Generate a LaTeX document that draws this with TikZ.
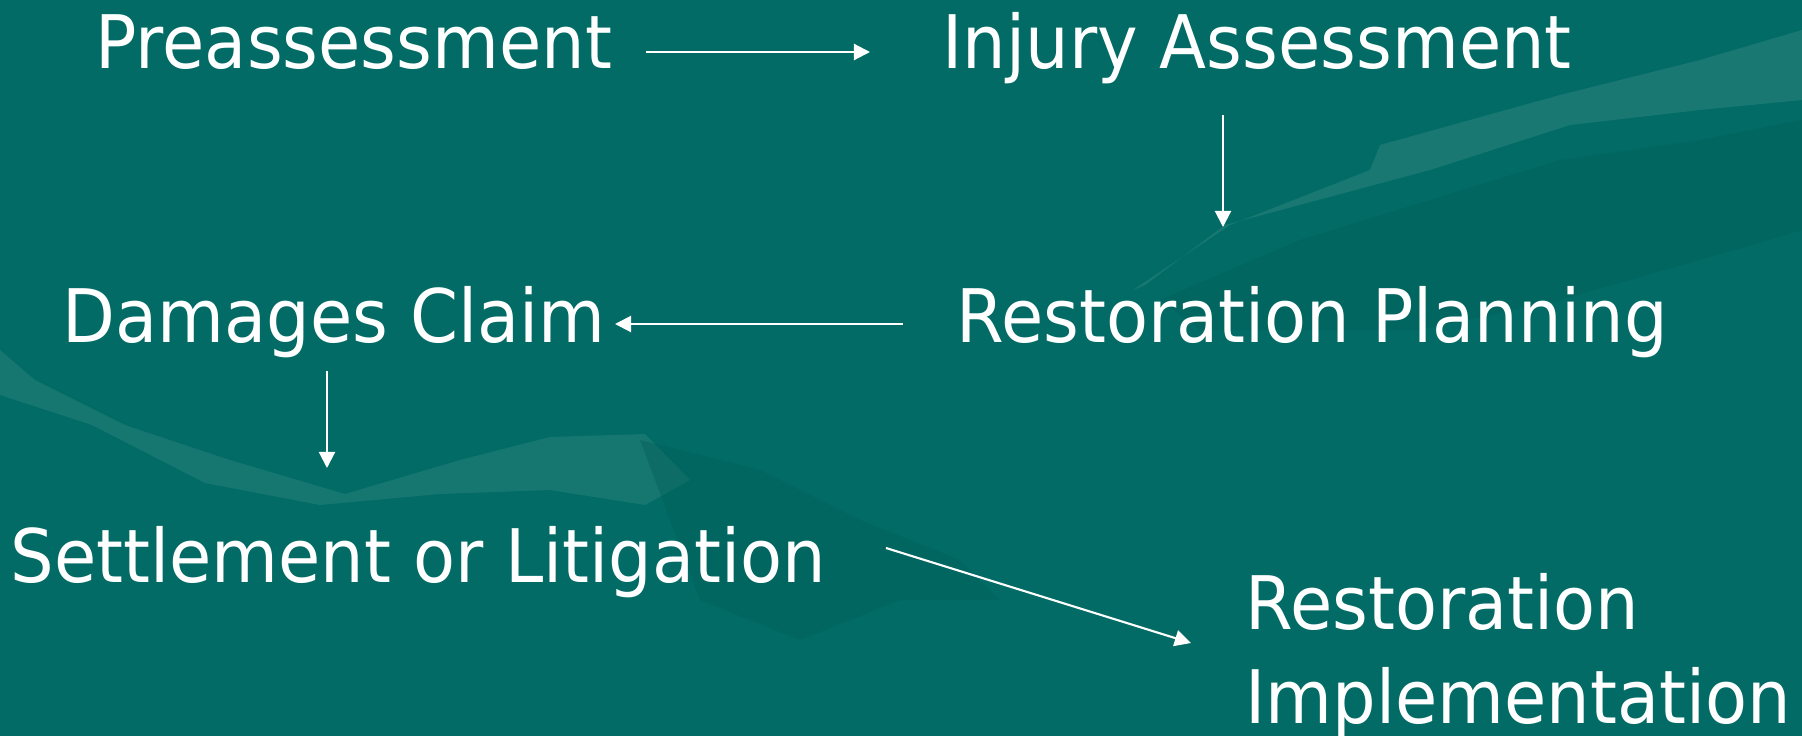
\documentclass[tikz,border=0pt]{standalone}
\usepackage{fontspec}
\setmainfont[FakeStretch=0.93]{DejaVu Sans}
\usetikzlibrary{arrows.meta}
\definecolor{bgteal}{RGB}{2,107,101}
\definecolor{handlight}{RGB}{60,140,134}
\definecolor{handdark}{RGB}{0,92,88}
\tikzset{
  lbl/.style={text=white, inner sep=0pt, anchor=base west, font=\fontsize{21}{26.5}\selectfont},
  arr/.style={draw=white, line width=0.6pt, -{Triangle[length=4.6pt,width=4.6pt]}},
}
\begin{document}
\begin{tikzpicture}[x=0.01cm,y=-0.01cm]
\useasboundingbox (0,0) rectangle (1802,736);
\fill[bgteal] (0,0) rectangle (1802,736);
% faint background hands
\fill[handdark, opacity=0.35] (1160,300) -- (1300,240) -- (1430,200) -- (1560,160) -- (1700,140) -- (1802,120) -- (1802,230) -- (1700,260) -- (1560,300) -- (1420,330) -- (1300,330) -- (1200,330) -- cycle;
\fill[handlight, opacity=0.4] (1133,290) -- (1230,225) -- (1370,170) -- (1380,145) -- (1560,95) -- (1700,60) -- (1802,30) -- (1802,100) -- (1700,110) -- (1570,125) -- (1430,170) -- (1225,225) -- (1145,285) -- cycle;
\fill[handlight, opacity=0.35] (0,350) -- (35,380) -- (125,425) -- (230,460) -- (345,494) -- (460,460) -- (550,437) -- (645,434) -- (690,480) -- (645,505) -- (550,490) -- (440,494) -- (320,505) -- (205,483) -- (92,425) -- (0,395) -- cycle;
\fill[handdark, opacity=0.35] (640,440) -- (760,470) -- (860,520) -- (960,560) -- (1000,600) -- (900,600) -- (800,640) -- (700,600) -- cycle;
% labels
\node[lbl] (pre) at (95,68) {Preassessment};
\node[lbl] (inj) at (942,68) {Injury Assessment};
\node[lbl] (plan) at (956,342) {Restoration Planning};
\node[lbl] (dam) at (62,342) {Damages Claim};
\node[lbl] (set) at (10,582) {Settlement or Litigation};
\node[lbl, align=left] (imp) at (1245,723) {Restoration\\Implementation};
% connector end points
\coordinate (a1s) at (646,52);  \coordinate (a1e) at (870,52);
\coordinate (a2s) at (1223,115); \coordinate (a2e) at (1223,227);
\coordinate (a3s) at (903,324); \coordinate (a3e) at (615,324);
\coordinate (a4s) at (327,371); \coordinate (a4e) at (327,468);
\coordinate (a5s) at (886,548); \coordinate (a5e) at (1191,643);
\draw[arr] (a1s) -- (a1e);
\draw[arr] (a2s) -- (a2e);
\draw[arr] (a3s) -- (a3e);
\draw[arr] (a4s) -- (a4e);
\draw[arr] (a5s) -- (a5e);
\end{tikzpicture}
\end{document}
